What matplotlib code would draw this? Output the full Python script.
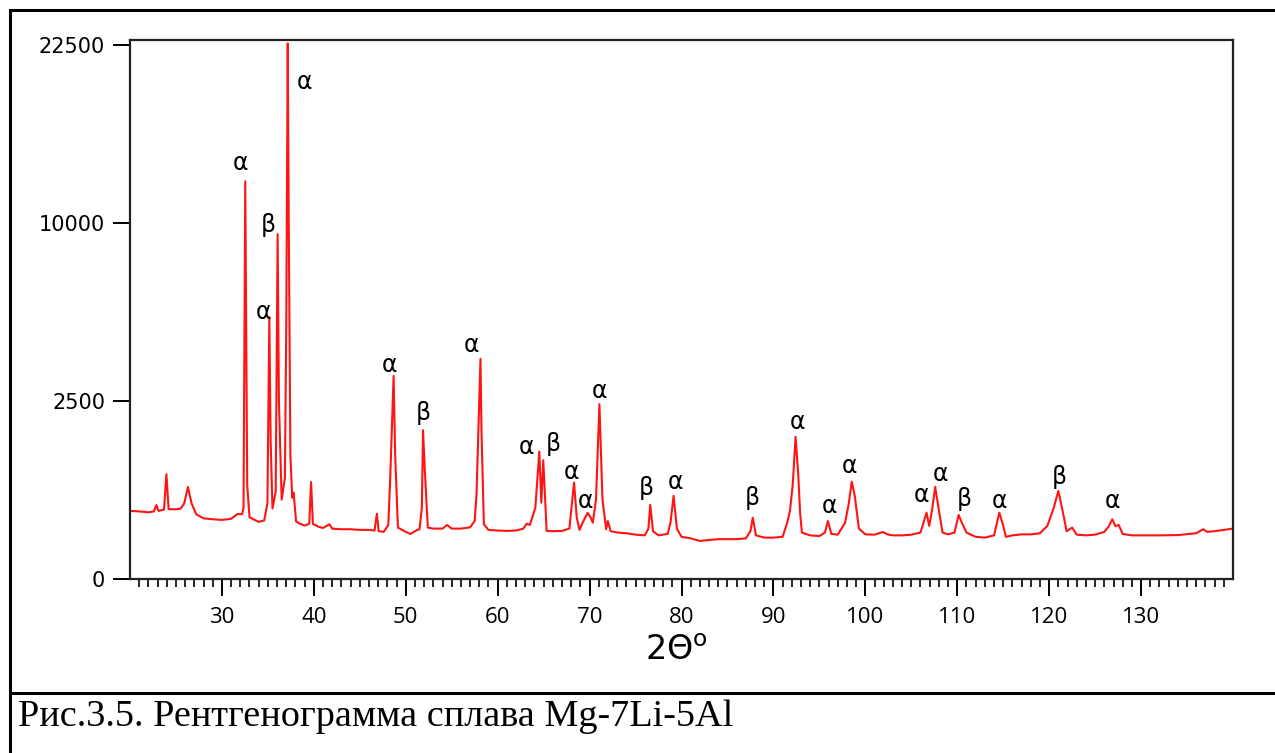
import numpy as np
import matplotlib.pyplot as plt
from matplotlib.lines import Line2D

# XRD trace: 2theta (deg) and intensity (counts)
two_theta = [20.0, 21.0, 22.0, 22.6, 22.87, 23.1, 23.7, 23.96, 24.2, 25.0,
             25.5, 25.9, 26.3, 26.7, 27.2, 28.0, 29.0, 30.0, 31.0, 31.7,
             32.2, 32.35, 32.54, 32.62, 32.75, 33.0, 34.0, 34.6, 34.95, 35.16,
             35.3, 35.5, 35.85, 36.06, 36.2, 36.5, 36.85, 37.0, 37.16, 37.27,
             37.45, 37.65, 37.8, 38.07, 38.5, 39.0, 39.5, 39.7, 39.9, 40.5,
             41.0, 41.7, 42.0, 43.0, 44.0, 45.0, 46.0, 46.6, 46.86, 47.05,
             47.6, 48.1, 48.3, 48.68, 48.85, 49.15, 50.0, 50.5, 51.0, 51.5,
             51.75, 51.88, 52.06, 52.4, 53.0, 54.0, 54.5, 55.0, 56.0, 57.0,
             57.5, 57.7, 58.13, 58.24, 58.5, 59.0, 60.0, 61.0, 62.0, 62.8,
             63.15, 63.5, 64.1, 64.53, 64.75, 64.96, 65.33, 66.0, 67.0, 67.8,
             68.31, 68.6, 68.9, 69.3, 69.78, 70.1, 70.35, 70.7, 71.07, 71.4,
             71.8, 71.98, 72.3, 73.0, 74.0, 75.0, 76.0, 76.4, 76.6, 76.9,
             77.5, 78.5, 78.8, 79.14, 79.5, 80.0, 81.0, 82.0, 83.0, 84.0,
             85.0, 86.0, 87.0, 87.5, 87.75, 88.1, 89.0, 90.0, 91.0, 91.5,
             91.8, 92.1, 92.41, 92.7, 92.9, 93.1, 94.0, 95.0, 95.6, 95.93,
             96.3, 97.0, 97.8, 98.2, 98.52, 98.85, 99.3, 100.0, 101.0, 101.9,
             102.5, 103.0, 104.0, 105.0, 106.0, 106.66, 106.95, 107.3, 107.6, 108.04,
             108.4, 109.0, 109.7, 110.15, 110.5, 111.0, 112.0, 113.0, 114.0, 114.58,
             114.95, 115.3, 116.0, 117.0, 118.0, 119.0, 119.8, 120.5, 121.0, 121.5,
             121.9, 122.5, 123.0, 124.0, 125.0, 126.0, 126.5, 126.87, 127.2, 127.56,
             128.0, 129.0, 130.0, 132.0, 134.0, 136.0, 136.76, 137.2, 138.0, 139.0,
             140.0]
intensity = [365, 360, 350, 360, 430, 365, 380, 865, 385, 383,
             390, 450, 668, 450, 330, 290, 281, 275, 285, 333,
             330, 400, 12455, 6331, 700, 300, 257, 270, 450, 5408,
             1500, 392, 600, 9370, 2500, 497, 800, 5000, 22600, 10026,
             1200, 520, 587, 260, 240, 225, 240, 740, 240, 215,
             205, 236, 200, 195, 195, 190, 190, 185, 336, 180,
             175, 230, 758, 3250, 1200, 208, 175, 160, 180, 197,
             400, 1745, 977, 208, 200, 200, 230, 200, 200, 210,
             265, 566, 3819, 1728, 236, 190, 185, 182, 185, 200,
             241, 230, 400, 1279, 459, 1111, 182, 180, 182, 200,
             732, 300, 190, 260, 344, 300, 250, 500, 2408, 500,
             195, 265, 180, 170, 165, 155, 150, 200, 432, 180,
             150, 160, 250, 544, 200, 140, 130, 114, 120, 125,
             125, 125, 130, 180, 296, 150, 135, 135, 140, 250,
             365, 700, 1591, 865, 350, 169, 150, 145, 170, 265,
             160, 155, 250, 450, 747, 544, 200, 157, 155, 174,
             155, 150, 150, 155, 170, 347, 222, 400, 668, 347,
             170, 157, 170, 323, 250, 170, 140, 135, 150, 347,
             236, 140, 150, 157, 157, 165, 222, 400, 611, 347,
             180, 208, 155, 150, 155, 175, 220, 281, 220, 230,
             160, 150, 150, 150, 152, 165, 195, 175, 180, 190,
             200]

# phase marks
phase_x = [32.0, 38.97, 35.05, 34.5, 48.24, 51.95, 57.19, 63.18, 66.02, 68.0,
           69.51, 71.04, 76.16, 79.32, 87.72, 92.63, 96.12, 98.3, 106.15, 108.22,
           110.73, 114.55, 121.09, 126.87]
phase_y = [13654, 19490, 9888, 5625, 3614, 2174, 4320, 1375, 1438, 903,
           480, 2789, 653, 742, 518, 1945, 420, 1007, 557, 870,
           505, 480, 821, 480]
phase = ['α', 'α', 'β', 'α', 'α', 'β', 'α', 'α', 'β', 'α',
         'α', 'α', 'β', 'α', 'β', 'α', 'α', 'α', 'α', 'α',
         'β', 'α', 'β', 'α']

W, H = 1275, 753
fig = plt.figure(figsize=(W / 100, H / 100), dpi=100)
ax = fig.add_axes([130 / W, 1 - 579 / H, 1103 / W, 539 / H])

ax.plot(two_theta, intensity, color='#ff1414', lw=1.5)

ax.set_yscale('function', functions=(lambda v: np.sqrt(np.clip(v, 0, None)), np.square))
ax.set_xlim(20, 140)
ax.set_ylim(0, 22885)
ax.set_yticks([0, 2500, 10000, 22500])
ax.set_yticklabels(['0', '2500', '10000', '22500'])
ax.set_xticks(range(30, 131, 10))
ax.set_xticks(range(21, 140), minor=True)
ax.tick_params(axis='x', which='major', length=12, width=1.4, pad=8, labelsize=16)
ax.tick_params(axis='x', which='minor', length=6, width=1.2)
ax.tick_params(axis='y', which='major', length=12, width=1.4, pad=6, labelsize=15)
ax.tick_params(axis='y', which='minor', length=0)
for lab in ax.get_xticklabels():
    lab.set_fontfamily('Open Sans')
for s in ax.spines.values():
    s.set_linewidth(1.6)
    s.set_color('#222222')

for x, y, t in zip(phase_x, phase_y, phase):
    ax.text(x, y, t, ha='center', va='center', fontsize=17, family='DejaVu Sans')

fig.text(676 / W, 1 - 651 / H, '2Θ$^{\\mathrm{o}}$', ha='center', va='center', fontsize=24)

# frame of the figure cell
fig.add_artist(Line2D([10 / W, 1], [1 - 10 / H] * 2, transform=fig.transFigure, color='k', lw=2.2))
fig.add_artist(Line2D([10 / W] * 2, [0, 1 - 10 / H], transform=fig.transFigure, color='k', lw=2.2))
fig.add_artist(Line2D([10 / W, 1], [1 - 693 / H] * 2, transform=fig.transFigure, color='k', lw=2.2))

fig.text(18 / W, 1 - 717 / H, 'Рис.3.5. Рентгенограмма сплава Mg-7Li-5Al',
         family='Liberation Serif', fontsize=27.5, ha='left', va='center')

fig.savefig('out.png', dpi=100)
